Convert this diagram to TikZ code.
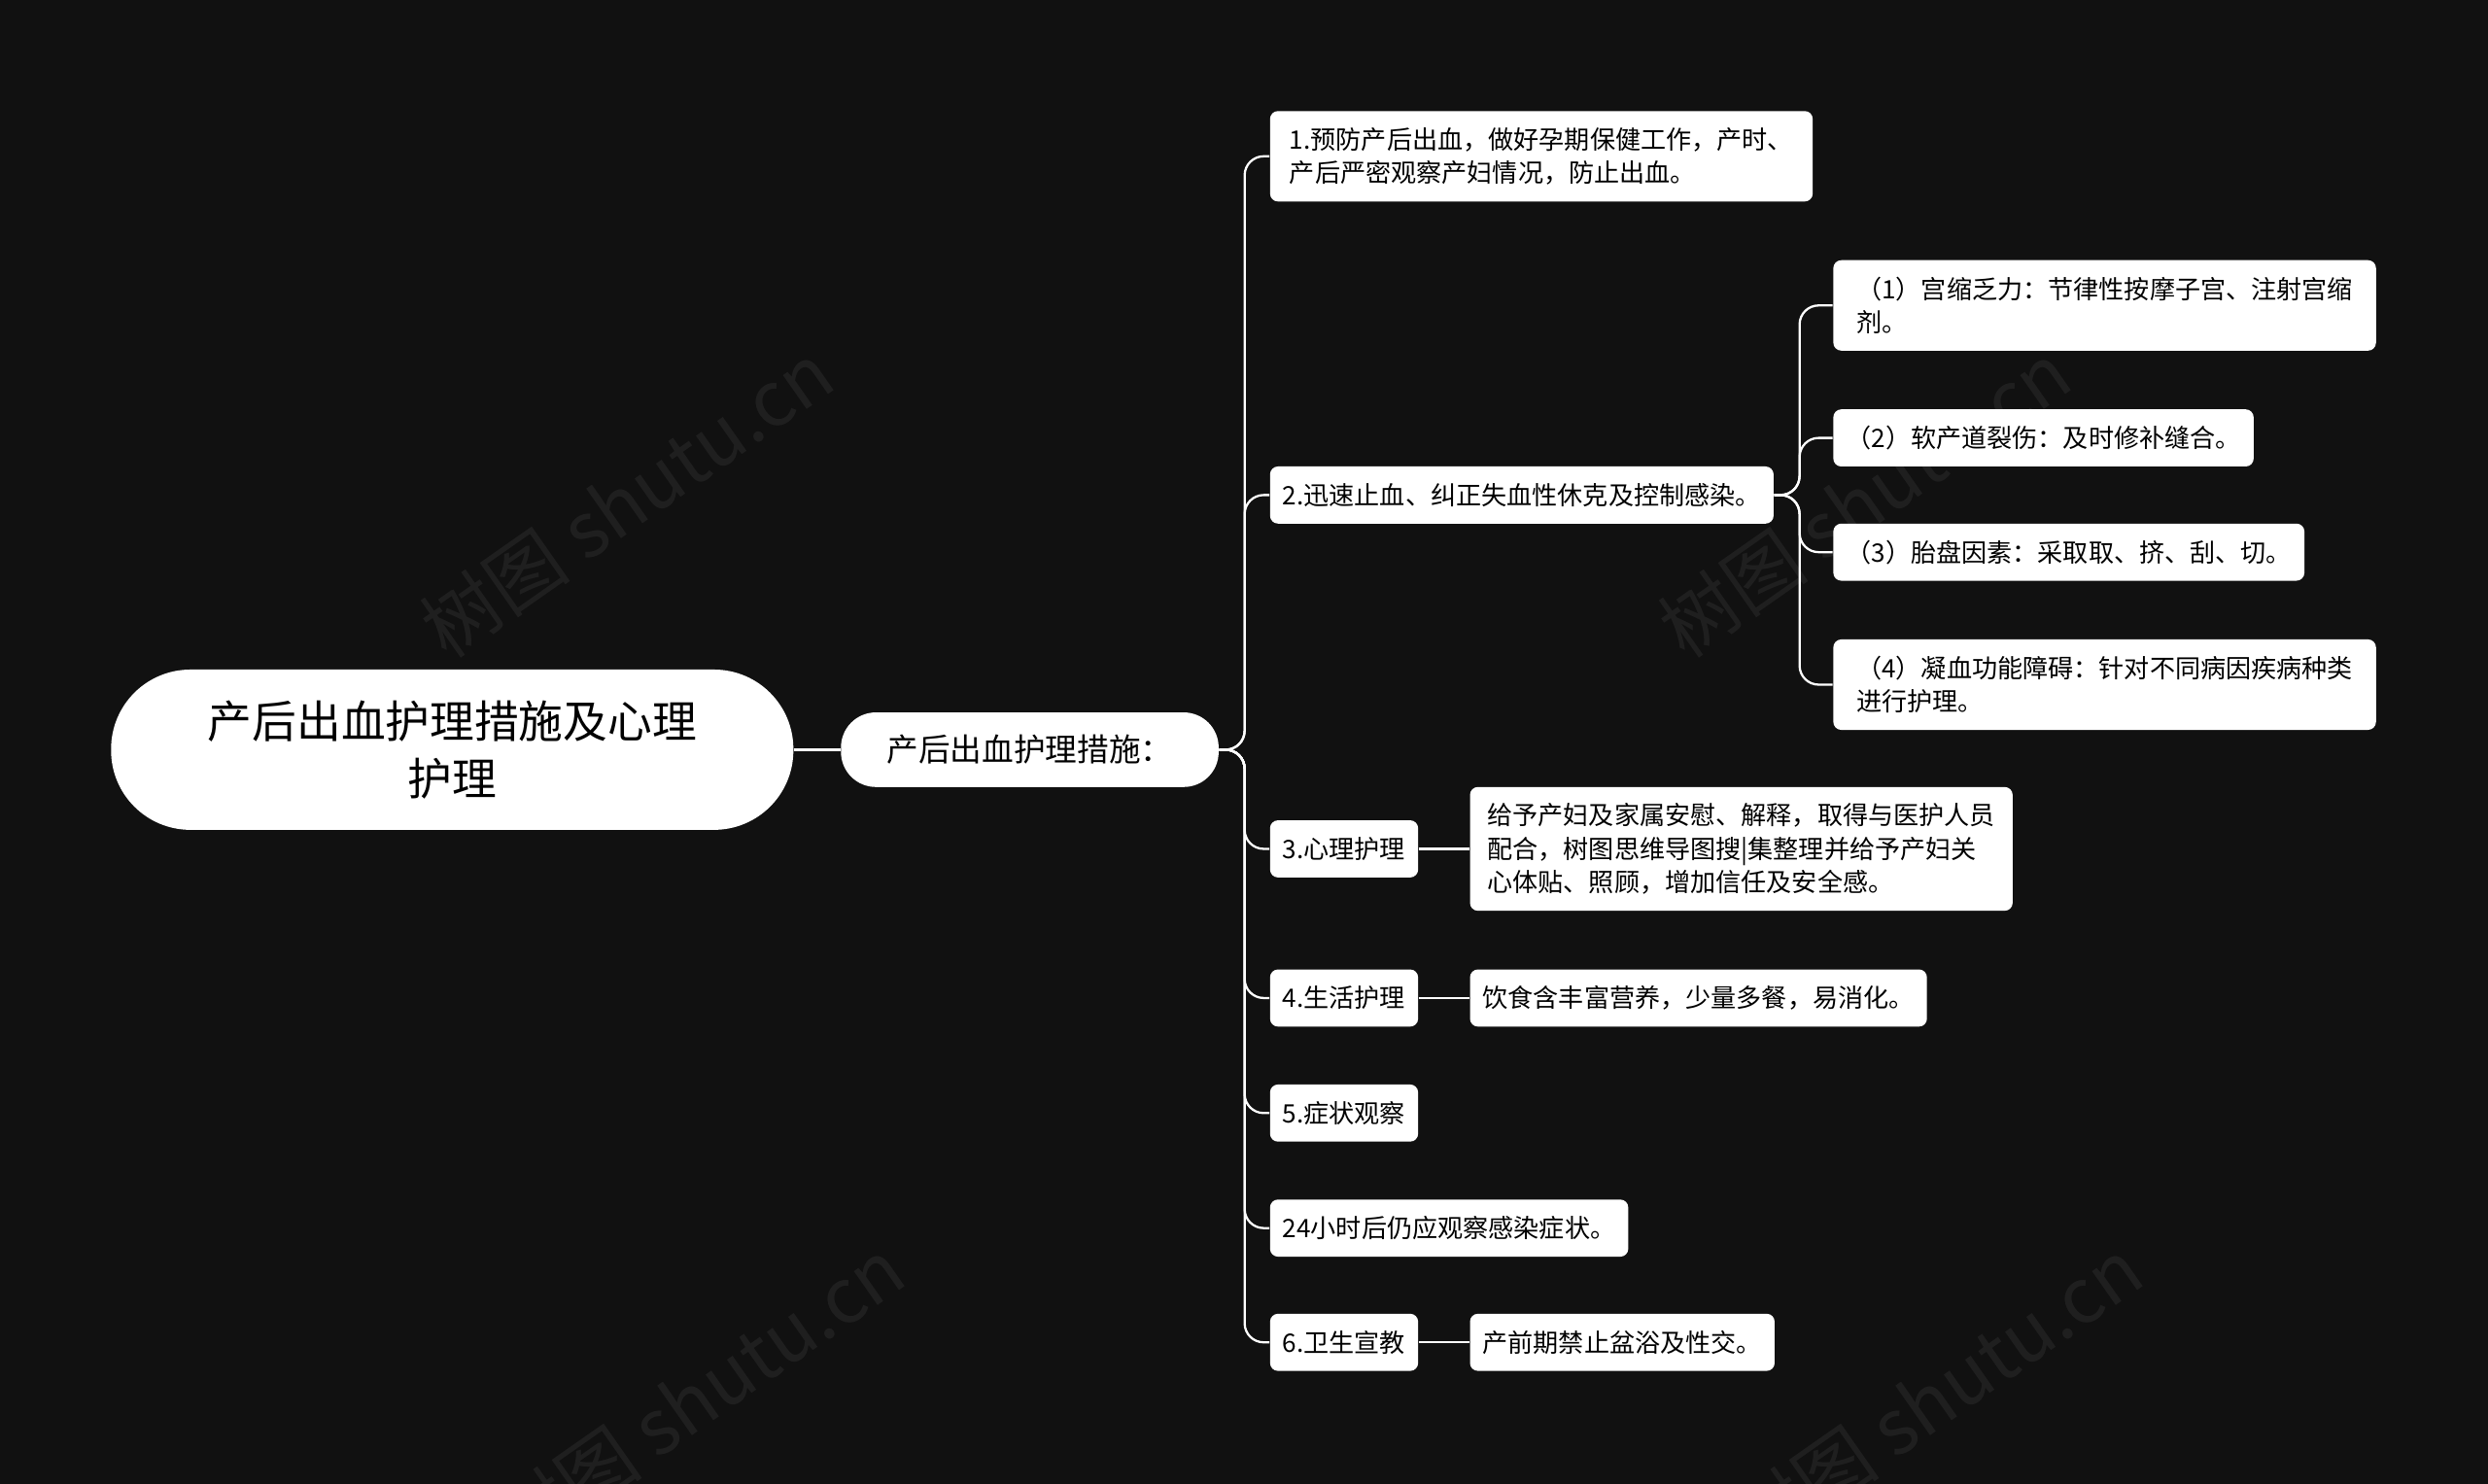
\documentclass[tikz,border=0pt]{standalone}
\usepackage{fontspec}
\setmainfont{Noto Sans CJK SC}
\begin{document}
\begin{tikzpicture}[x=0.5pt,y=-0.5pt,
 box/.style={fill=white,text=black,rounded corners=2.5pt,font=\fontsize{8}{10.5}\selectfont,align=left,inner xsep=4pt,inner ysep=2pt,anchor=west},
 ln/.style={draw=white,line width=0.7pt,rounded corners=6pt},
 wm/.style={text=white,opacity=0.06,font=\fontsize{24}{24}\selectfont,rotate=35}]
\fill[fill={rgb,255:red,17;green,17;blue,17}] (0,0) rectangle (1568,935);
\useasboundingbox (0,0) rectangle (1568,935);
\node[wm] at (395,315) {树图 shutu.cn};
\node[wm] at (1175,315) {树图 shutu.cn};
\node[wm] at (440,880) {树图 shutu.cn};
\node[wm] at (1220,880) {树图 shutu.cn};
\node[fill=white,text=black,rounded corners=25pt,minimum width=215pt,minimum height=50.5pt,align=center,font=\fontsize{14}{18}\selectfont] (root) at (285,472.5) {产后出血护理措施及心理\\护理};
\node[fill=white,text=black,rounded corners=11pt,minimum width=119pt,minimum height=23.5pt,font=\fontsize{10}{12}\selectfont] (l1) at (649,472.5) {产后出血护理措施：};
\draw[ln] (root.east) -- (l1.west);
\node[box,minimum width=171pt,minimum height=28.5pt] (c1) at (800,98.5) {1.预防产后出血，做好孕期保健工作，产时、\\产后严密观察产妇情况，防止出血。};
\node[box,minimum height=18pt] (c2) at (800,312) {2.迅速止血、纠正失血性休克及控制感染。};
\node[box,minimum height=18pt] (c3) at (800,535) {3.心理护理};
\node[box,minimum height=18pt] (c4) at (800,629) {4.生活护理};
\node[box,minimum height=18pt] (c5) at (800,701.5) {5.症状观察};
\node[box,minimum height=18pt] (c6) at (800,774) {24小时后仍应观察感染症状。};
\node[box,minimum height=18pt] (c7) at (800,846) {6.卫生宣教};
\foreach \c in {c1,c2,c3,c4,c5,c6,c7}{\draw[ln] (l1.east) -- ++(16,0) |- (\c.west);}
\node[box,minimum width=171pt,minimum height=28.5pt] (g1) at (1155,192.5) {（1）宫缩乏力：节律性按摩子宫、注射宫缩\\剂。};
\node[box,minimum height=18pt] (g2) at (1155,276) {（2）软产道裂伤：及时修补缝合。};
\node[box,minimum height=18pt] (g3) at (1155,348) {（3）胎盘因素：采取取、挤、刮、切。};
\node[box,minimum width=171pt,minimum height=28.5pt] (g4) at (1155,431.5) {（4）凝血功能障碍：针对不同病因疾病种类\\进行护理。};
\foreach \g in {g1,g2,g3,g4}{\draw[ln] (c2.east) -- ++(16,0) |- (\g.west);}
\node[box,minimum width=171pt,minimum height=39pt] (d3) at (926,535) {给予产妇及家属安慰、解释，取得与医护人员\\配合，树图思维导图搜|集整理并给予产妇关\\心体贴、照顾，增加信任及安全感。};
\node[box,minimum height=18pt] (d4) at (926,629) {饮食含丰富营养，少量多餐，易消化。};
\node[box,minimum height=18pt] (d7) at (926,846) {产前期禁止盆浴及性交。};
\draw[ln] (c3.east) -- (d3.west);
\draw[ln] (c4.east) -- (d4.west);
\draw[ln] (c7.east) -- (d7.west);
\end{tikzpicture}
\end{document}
